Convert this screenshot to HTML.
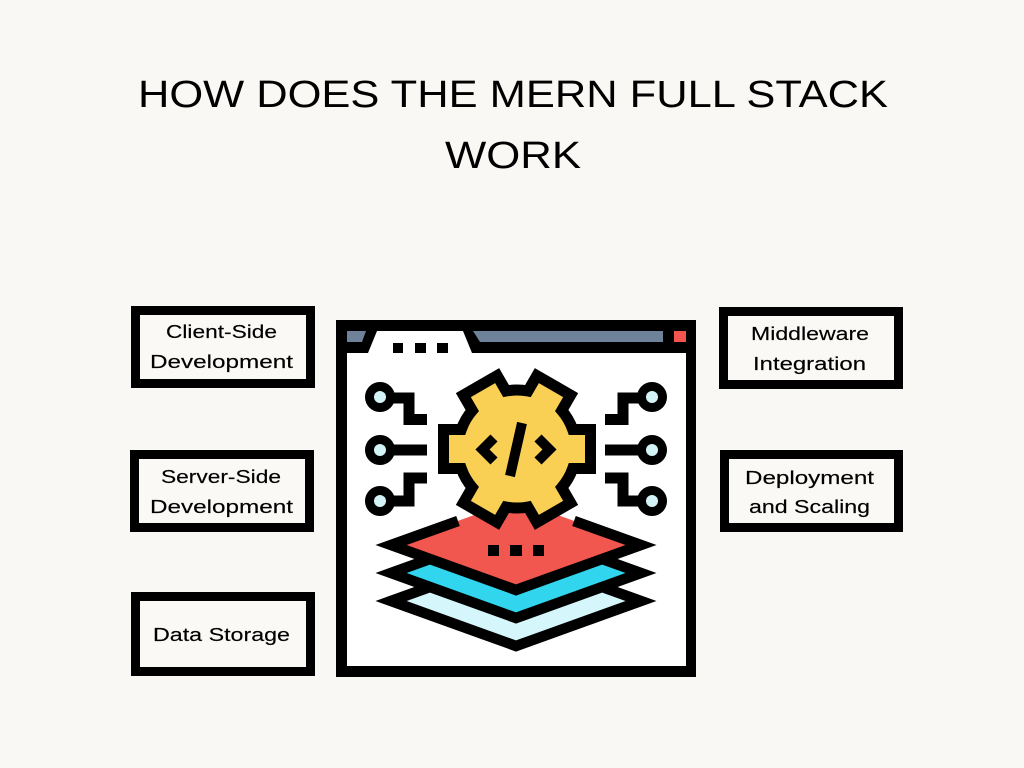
<!DOCTYPE html>
<html>
<head>
<meta charset="utf-8">
<style>
  html, body { margin: 0; padding: 0; background: #f9f8f4; }
  svg { display: block; }
  text { font-family: "Liberation Sans", "DejaVu Sans", sans-serif; fill: #000; }
  .t { font-size: 38px; }
  .b { font-size: 18px; stroke: #000; stroke-width: 0.15px; }
</style>
</head>
<body>
<svg width="1024" height="768" viewBox="0 0 1024 768" xmlns="http://www.w3.org/2000/svg">
  <rect width="1024" height="768" fill="#f9f8f4"/>

  <!-- Title -->
  <text class="t" x="138" y="107" textLength="750" lengthAdjust="spacingAndGlyphs">HOW DOES THE MERN FULL STACK</text>
  <text class="t" x="445" y="168" textLength="136" lengthAdjust="spacingAndGlyphs">WORK</text>

  <!-- Left boxes -->
  <rect x="135.5" y="310.5" width="175" height="73" fill="#faf9f6" stroke="#000" stroke-width="9"/>
  <text class="b" x="166" y="338" textLength="111" lengthAdjust="spacingAndGlyphs">Client-Side</text>
  <text class="b" x="150" y="368" textLength="143" lengthAdjust="spacingAndGlyphs">Development</text>

  <rect x="134.5" y="454.5" width="175" height="73" fill="#faf9f6" stroke="#000" stroke-width="9"/>
  <text class="b" x="161" y="483" textLength="120" lengthAdjust="spacingAndGlyphs">Server-Side</text>
  <text class="b" x="150" y="513" textLength="143" lengthAdjust="spacingAndGlyphs">Development</text>

  <rect x="135.5" y="596.5" width="175" height="75" fill="#faf9f6" stroke="#000" stroke-width="9"/>
  <text class="b" x="153" y="641" textLength="137" lengthAdjust="spacingAndGlyphs">Data Storage</text>

  <!-- Right boxes -->
  <rect x="723.5" y="311.5" width="175" height="73" fill="#faf9f6" stroke="#000" stroke-width="9"/>
  <text class="b" x="751" y="340" textLength="118" lengthAdjust="spacingAndGlyphs">Middleware</text>
  <text class="b" x="753" y="370" textLength="113" lengthAdjust="spacingAndGlyphs">Integration</text>

  <rect x="724.5" y="454.5" width="174" height="73" fill="#faf9f6" stroke="#000" stroke-width="9"/>
  <text class="b" x="745" y="484" textLength="129" lengthAdjust="spacingAndGlyphs">Deployment</text>
  <text class="b" x="749" y="513" textLength="121" lengthAdjust="spacingAndGlyphs">and Scaling</text>

  <!-- Browser frame -->
  <rect x="336" y="320" width="360" height="357" fill="#000"/>
  <rect x="347" y="353" width="339" height="313" fill="#fff"/>
  <polygon points="347,331 366,331 362,342 347,342" fill="#6e8299"/>
  <polygon points="377,331 463,331 472,353 368,353" fill="#fff"/>
  <polygon points="473,331 663,331 663,342 480,342" fill="#6e8299"/>
  <rect x="674" y="331" width="12" height="11" fill="#f1554e"/>
  <rect x="393" y="343" width="10" height="10" fill="#000"/>
  <rect x="415" y="343" width="11" height="10" fill="#000"/>
  <rect x="437" y="343" width="11" height="10" fill="#000"/>

  <!-- Circuits -->
  <g fill="none" stroke="#000" stroke-width="11" stroke-linejoin="miter">
    <path d="M390,398 H409 V419.5 H427"/>
    <path d="M390,450 H427"/>
    <path d="M390,501 H409 V478 H427"/>
    <path d="M642,398 H623 V419.5 H605"/>
    <path d="M642,450 H605"/>
    <path d="M642,501 H623 V478 H605"/>
  </g>
  <g fill="#d4f3f7" stroke="#000" stroke-width="9">
    <circle cx="380" cy="397" r="10.5"/>
    <circle cx="380" cy="450" r="10.5"/>
    <circle cx="380" cy="501" r="10.5"/>
    <circle cx="652" cy="397" r="10.5"/>
    <circle cx="652" cy="450" r="10.5"/>
    <circle cx="652" cy="501" r="10.5"/>
  </g>

  <!-- Layers -->
  <polygon points="391,601 516,556 641,601 516,646" fill="#d5f6fa" stroke="#000" stroke-width="10.5" stroke-linejoin="miter"/>
  <polygon points="391,573 516,528 641,573 516,618" fill="#31d6ee" stroke="#000" stroke-width="10.5" stroke-linejoin="miter"/>
  <polygon points="391,545 516,500 641,545 516,590" fill="#f1574f"/>
  <path d="M458,521 L391,545 L516,590 L641,545 L574,521" fill="none" stroke="#000" stroke-width="10.5" stroke-linejoin="miter"/>
  <rect x="488" y="545" width="11" height="11" fill="#000"/>
  <rect x="510" y="545" width="12" height="11" fill="#000"/>
  <rect x="533" y="545" width="11" height="11" fill="#000"/>

  <!-- Gear (6 teeth) -->
  <path d="M572.7,429.5 L590.5,429.5 L590.5,468.5 L572.7,468.5
           A59,59 0 0 1 561.74,487.49 L570.64,502.9 L536.86,522.4 L527.96,506.99
           A59,59 0 0 1 506.04,506.99 L497.14,522.4 L463.36,502.9 L472.26,487.49
           A59,59 0 0 1 461.3,468.5 L443.5,468.5 L443.5,429.5 L461.3,429.5
           A59,59 0 0 1 472.26,410.51 L463.36,395.1 L497.14,375.6 L506.04,391.01
           A59,59 0 0 1 527.96,391.01 L536.86,375.6 L570.64,395.1 L561.74,410.51
           A59,59 0 0 1 572.7,429.5 Z"
        fill="#f9cf54" stroke="#000" stroke-width="11" stroke-linejoin="miter"/>
  <g fill="none" stroke="#000" stroke-width="10" stroke-linejoin="miter">
    <path d="M494,438 L482.5,449.5 L494,461"/>
    <path d="M538,438 L549.5,449.5 L538,461"/>
    <path d="M522,423 L510,476"/>
  </g>
</svg>
</body>
</html>
